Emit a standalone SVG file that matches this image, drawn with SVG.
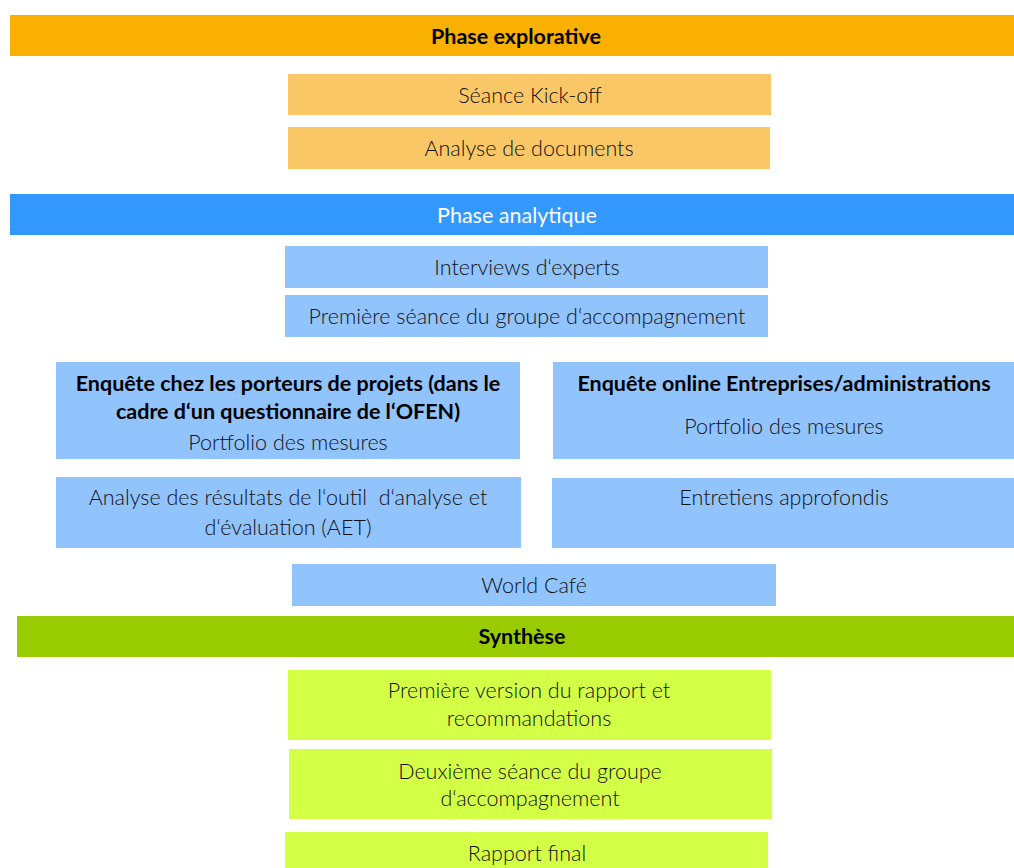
<svg xmlns="http://www.w3.org/2000/svg" width="1014" height="868" viewBox="0 0 1014 868">
<style>
text{font-family:Lato,"Liberation Sans",sans-serif;font-size:21.5px;font-weight:300;fill:#111;text-anchor:middle}
.b{font-weight:bold;fill:#000}
.w{fill:#fff;font-weight:normal}
.po{fill:#F9B000}.lo{fill:#F9C766}
.pb{fill:#3399FF}.lb{fill:#91C3FD}
.pg{fill:#99CC00}.lg{fill:#D4FF47}
.pre{white-space:pre}
</style>
<rect width="1014" height="868" fill="#fff"/>
<g id="phase-explorative"><rect class="po" x="10" y="15" width="1004" height="41"/><text class="b" x="516" y="44">Phase explorative</text></g>
<g id="kickoff"><rect class="lo" x="288" y="74" width="483" height="41"/><text x="530" y="103">Séance Kick-off</text></g>
<g id="analyse-docs"><rect class="lo" x="288" y="127" width="482" height="42"/><text x="529" y="156">Analyse de documents</text></g>
<g id="phase-analytique"><rect class="pb" x="10" y="194" width="1004" height="41"/><text class="w" x="517" y="223">Phase analytique</text></g>
<g id="interviews"><rect class="lb" x="285" y="246" width="483" height="42"/><text x="527" y="275">Interviews d‘experts</text></g>
<g id="premiere-seance"><rect class="lb" x="285" y="295" width="483" height="42"/><text x="527" y="324">Première séance du groupe d‘accompagnement</text></g>
<g id="enquete-porteurs"><rect class="lb" x="56" y="362" width="464" height="97"/><text class="b" x="288" y="391">Enquête chez les porteurs de projets (dans le</text><text class="b" x="288" y="419">cadre d‘un questionnaire de l‘OFEN)</text><text x="288" y="450">Portfolio des mesures</text></g>
<g id="enquete-online"><rect class="lb" x="553" y="362" width="461" height="97"/><text class="b" x="784" y="391">Enquête online Entreprises/administrations</text><text x="784" y="434">Portfolio des mesures</text></g>
<g id="analyse-aet"><rect class="lb" x="56" y="477" width="465" height="71"/><text class="pre" x="288" y="505">Analyse des résultats de l‘outil  d‘analyse et</text><text x="288" y="535">d‘évaluation (AET)</text></g>
<g id="entretiens"><rect class="lb" x="552" y="478" width="462" height="70"/><text x="784" y="505">Entretiens approfondis</text></g>
<g id="world-cafe"><rect class="lb" x="292" y="564" width="484" height="42"/><text x="534" y="593">World Café</text></g>
<g id="synthese"><rect class="pg" x="17" y="616" width="997" height="41"/><text class="b" x="522" y="644">Synthèse</text></g>
<g id="premiere-version"><rect class="lg" x="288" y="670" width="483" height="70"/><text x="529" y="698">Première version du rapport et</text><text x="529" y="726">recommandations</text></g>
<g id="deuxieme-seance"><rect class="lg" x="289" y="749" width="483" height="70"/><text x="530" y="779">Deuxième séance du groupe</text><text x="530" y="806">d‘accompagnement</text></g>
<g id="rapport-final"><rect class="lg" x="285" y="832" width="483" height="36"/><text x="527" y="861">Rapport final</text></g>
<g id="connectors"/>
</svg>
